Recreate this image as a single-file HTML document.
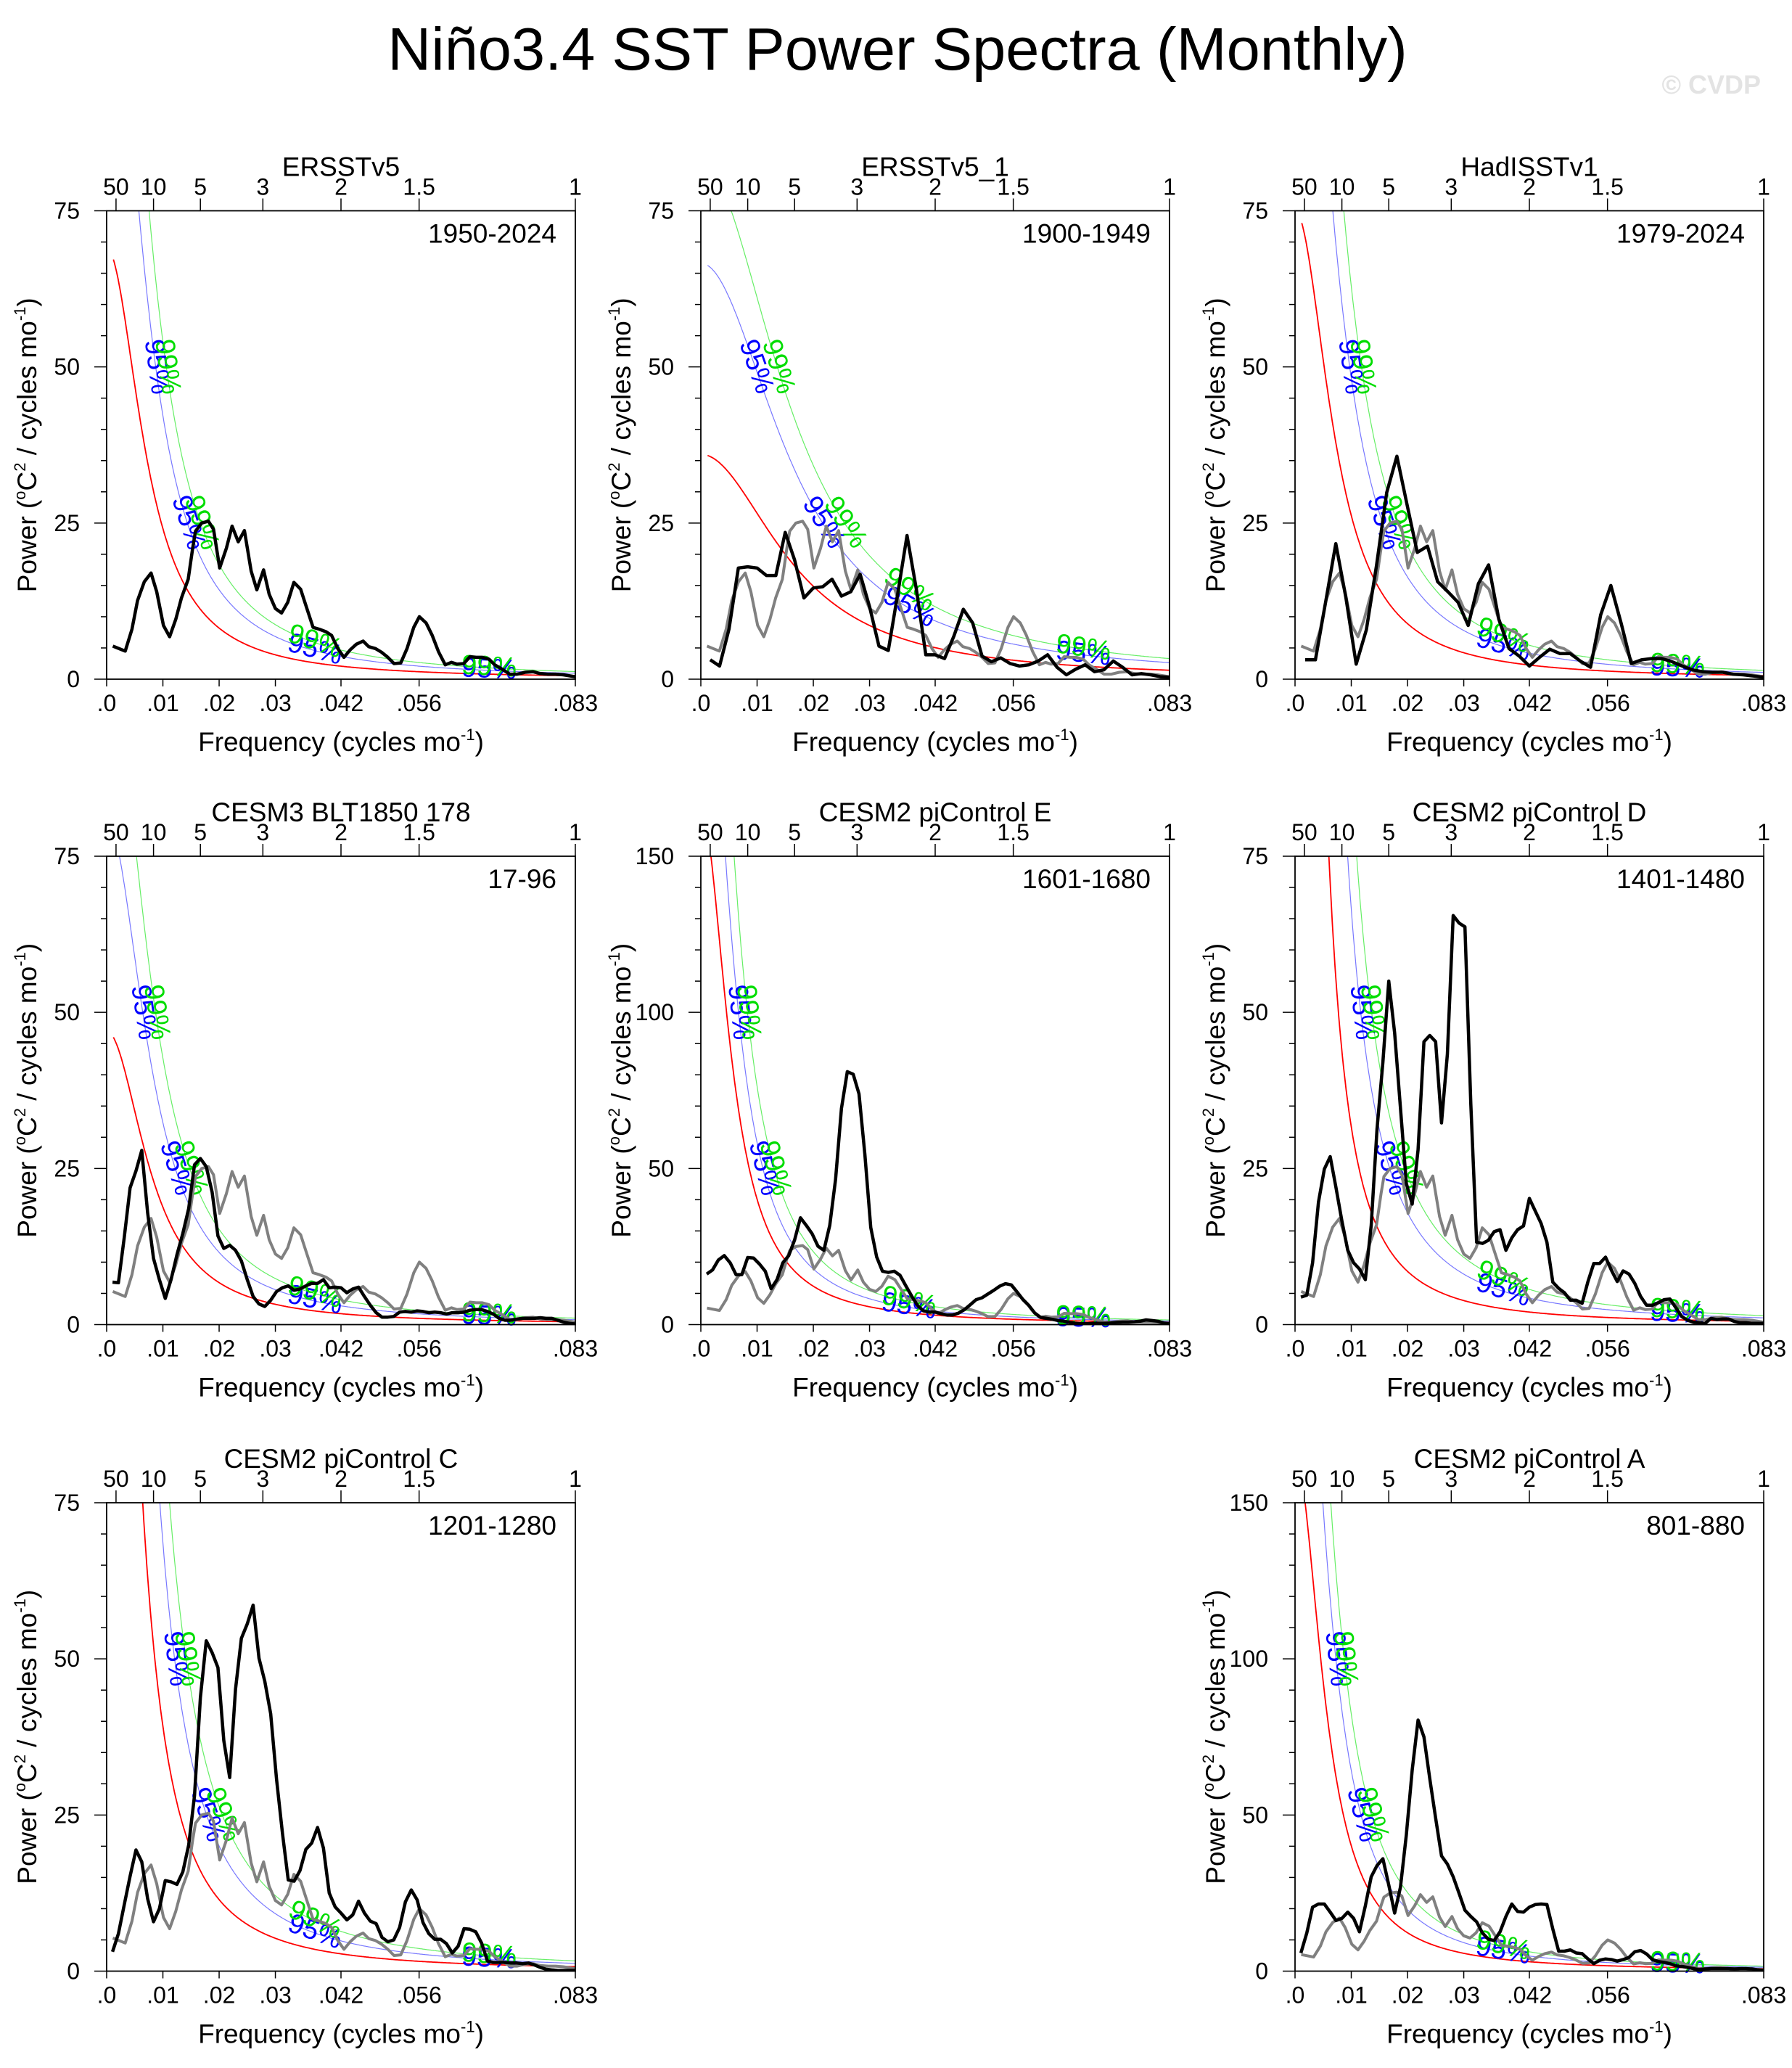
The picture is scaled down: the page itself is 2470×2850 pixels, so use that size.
<!DOCTYPE html>
<html><head><meta charset="utf-8">
<style>
html,body{margin:0;padding:0;background:#fff;}
svg{display:block;font-family:"Liberation Sans",Arial,sans-serif;}
</style></head>
<body>
<svg id="fig" width="2470" height="2850" viewBox="0 0 2470 2850" xmlns="http://www.w3.org/2000/svg">
<rect width="2470" height="2850" fill="#fff"/>
<text x="1237" y="96" font-size="83" text-anchor="middle" fill="#000">Niño3.4 SST Power Spectra (Monthly)</text>
<text x="2427" y="129" font-size="36" font-weight="bold" text-anchor="end" fill="#e3e3e3">© CVDP</text>
<g id="panels"></g>
</svg>
<script>
// ---------- data ----------
const panelTitles = ["ERSSTv5","ERSSTv5_1","HadISSTv1","CESM3 BLT1850 178","CESM2 piControl E","CESM2 piControl D","CESM2 piControl C","CESM2 piControl A"];
const panelYears = ["1950-2024","1900-1949","1979-2024","17-96","1601-1680","1401-1480","1201-1280","801-880"];
const panelYMax = [75,75,75,75,150,75,75,150];
// observed reference (grey) spectrum: ERSSTv5 1950-2024
const obsFreq = [.0011,.0033,.0045,.0055,.0067,.0079,.0089,.0101,.0112,.0123,.0133,.0145,.0153,.0158,.0169,.0181,.0190,.0201,.0213,.0223,.0234,.0245,.0257,.0267,.0279,.0289,.0300,.0311,.0322,.0333,.0345,.0355,.0367,.0378,.0390,.0400,.0411,.0422,.0433,.0444,.0456,.0466,.0478,.0489,.0500,.0511,.0523,.0534,.0546,.0556,.0568,.0579,.0590,.0602,.0613,.0623,.0635,.0646,.0657,.0668,.0680,.0690,.0703,.0717,.0730,.0744,.0758,.0771,.0785,.0798,.0812,.0833];
const obsPower = [5.3,4.5,8.0,12.6,15.6,17.0,14.0,8.6,6.8,9.6,13.0,16.0,21.0,23.7,25.0,25.3,24.0,17.8,21.0,24.5,22.0,23.8,17.3,14.3,17.5,13.6,11.3,10.6,12.3,15.5,14.4,11.6,8.3,8.0,7.6,7.0,4.9,3.5,4.7,5.6,6.1,5.2,4.9,4.3,3.5,2.5,2.6,4.9,8.3,10.0,9.0,7.0,4.4,2.3,2.7,2.4,2.5,3.6,3.5,3.5,3.2,2.3,1.6,0.8,0.8,1.1,1.2,0.9,0.8,0.8,0.7,0.4];
// per-panel black spectra (evenly spaced harmonics up to 1/12 cycles/mo)
const power2 = [3.1,2.1,8.0,17.8,18.0,17.8,16.6,16.6,23.5,19.1,13.0,14.6,14.8,16.0,13.3,14.0,16.8,11.6,5.3,4.6,13.6,23.0,14.3,3.9,3.9,3.3,6.9,11.2,9.0,3.7,2.8,3.4,2.5,2.1,2.3,2.9,3.9,1.9,0.7,1.6,2.3,1.2,1.5,2.9,1.9,0.7,0.9,0.7,0.4,0.3];
const power3 = [3.1,3.1,12.3,21.7,13.0,2.4,7.9,18.2,29.9,35.7,27.9,20.3,21.3,15.6,14.0,12.3,8.6,15.3,18.3,9.6,4.9,3.7,2.1,3.5,4.8,4.1,4.1,2.9,1.9,10.3,15.0,9.0,2.5,3.1,3.3,3.3,2.8,2.1,1.5,1.2,1.1,1.1,0.8,0.7,0.5,0.3];
const power4 = [6.8,6.7,13.9,21.9,24.6,27.9,17.9,10.6,7.2,4.2,7.2,11.2,14.6,18.6,25.6,26.6,25.3,21.2,14.2,12.2,12.7,11.9,10.2,7.2,4.5,3.3,2.9,3.9,5.3,5.9,6.2,5.5,5.7,6.2,6.6,6.6,7.2,5.9,6.0,5.9,5.1,5.7,6.0,4.5,3.1,1.9,1.2,1.2,1.3,2.0,2.1,2.0,2.2,2.1,1.9,2.0,1.9,1.7,1.9,1.9,2.0,2.3,2.4,2.4,2.1,1.7,1.0,0.7,0.7,0.9,1.0,1.0,1.0,1.1,1.0,1.0,0.7,0.4,0.2,0.1];
const power5 = [16.2,17.5,20.7,22.1,19.8,16.0,16.0,21.5,21.3,19.4,17.1,11.5,14.4,19.8,22.1,27.1,34.2,31.8,29.1,25.1,23.8,31.8,46.5,69.2,81.0,80.2,73.9,54.5,31.1,21.7,17.1,16.7,17.1,15.8,12.4,9.1,6.1,4.4,4.0,4.0,3.5,3.1,3.1,3.7,4.8,6.4,8.0,8.6,9.8,11.0,12.3,13.1,12.7,10.4,8.0,6.1,3.7,2.3,2.0,1.7,1.3,1.1,0.7,0.4,0.3,0.3,0.4,0.4,0.4,0.5,0.7,0.8,0.8,0.9,1.1,1.5,1.3,1.1,0.5,0.3];
const power6 = [4.4,4.7,9.9,19.6,24.9,26.9,21.9,16.6,11.9,9.9,8.9,7.2,15.9,31.3,42.0,55.0,46.7,34.7,22.6,19.3,28.0,45.3,46.3,45.3,32.3,43.3,65.5,64.3,63.7,35.3,13.2,13.0,13.5,14.9,15.2,11.9,13.9,15.2,15.8,20.2,18.2,16.2,13.2,6.8,5.8,5.1,3.9,3.9,3.4,6.9,9.8,9.8,10.8,8.7,6.9,8.6,8.1,6.6,4.5,3.1,3.1,3.5,4.0,4.1,2.7,1.3,0.7,0.4,0.3,0.2,1.0,0.8,0.9,0.9,0.5,0.3,0.3,0.2,0.2,0.2];
const power7 = [3.1,6.0,10.6,15.2,19.4,17.5,11.6,7.9,10.0,14.5,14.3,13.9,15.9,20.2,28.1,43.8,52.9,51.0,48.6,36.9,31.0,45.1,53.3,55.6,58.6,50.1,46.4,41.2,30.7,22.1,14.6,14.4,16.1,19.5,20.5,23.0,19.7,12.5,10.3,9.3,8.2,9.0,11.2,9.3,8.0,7.6,5.4,4.7,5.0,7.0,11.1,13.0,11.4,7.8,6.0,5.1,5.1,4.4,2.9,4.0,6.8,6.7,6.3,4.5,1.6,1.4,1.4,1.4,1.3,1.3,1.2,1.3,1.0,0.6,0.3,0.2,0.1,0.1,0.1,0.1];
const power8 = [5.8,12.2,20.5,21.5,21.5,18.9,16.2,16.9,18.9,16.9,12.6,20.9,30.2,33.8,36.0,27.6,18.6,26.9,43.6,64.4,80.4,75.0,61.7,49.0,36.9,34.3,30.2,24.9,19.5,17.5,15.8,12.2,10.2,9.8,12.6,17.5,21.5,19.1,18.9,20.5,21.3,21.5,21.3,13.5,6.4,6.4,6.8,5.8,5.6,3.9,2.4,3.5,3.9,3.7,3.2,3.7,4.4,6.2,6.6,5.5,3.7,3.1,2.8,2.4,1.7,1.5,1.2,0.8,0.5,0.7,0.8,0.8,0.8,0.8,0.7,0.8,0.8,0.7,0.4,0.3];
// red-noise (AR1) fit per panel and significance multipliers
const redR = [.955,.9,.955,.95,.965,.98,.97,.965];
const redS0 = [69,36,75,47,165,338,206,165];
const mult95 = [1.75,1.85,1.84,1.72,1.45,2.1,1.75,1.6];
const mult99 = [2.24,2.3,2.4,2.27,1.9,2.8,2.3,2.05];
const xTickVals = [0,.01,.02,.03,1/24,1/18,1/12];
const xTickLabels = [".0",".01",".02",".03",".042",".056",".083"];
const periodVals = [50,10,5,3,2,1.5,1];
const periodLabels = ["50","10","5","3","2","1.5","1"];

// ---------- layout ----------
const NS = "http://www.w3.org/2000/svg";
const colX = [147,966,1785], rowY = [290.5,1180,2071];
const PW = 646, PH = 645.5, FMAX = 1/12;
const slots = [[0,0],[1,0],[2,0],[0,1],[1,1],[2,1],[0,2],[2,2]];
const blackSeries = [null,power2,power3,power4,power5,power6,power7,power8];

function mk(tag, attrs, parent){
  const e = document.createElementNS(NS, tag);
  for (const k in attrs) e.setAttribute(k, attrs[k]);
  parent.appendChild(e);
  return e;
}
function pathFrom(pts){ return pts.map((p,i)=>(i?"L":"M")+p[0].toFixed(1)+" "+p[1].toFixed(1)).join(" "); }

const root = document.getElementById("panels");
panelTitles.forEach((title, i) => {
  const [c, r] = slots[i];
  const L = colX[c], T = rowY[r], B = T + PH, R = L + PW;
  const ymax = panelYMax[i];
  const xs = f => L + f / FMAX * PW;
  const ys = v => B - v / ymax * PH;
  const g = mk("g", {}, root);
  
  
  const cid = "clip" + i;
  const cp = mk("clipPath", {id: cid}, g);
  mk("rect", {x: L, y: T, width: PW, height: PH}, cp);

  const tt = mk("text", {x: L + PW/2, y: T - 48, "font-size": 37, "text-anchor": "middle"}, g);
  tt.textContent = title;
  
  
  const yr = mk("text", {x: R - 26, y: T + 44, "font-size": 37, "text-anchor": "end"}, g);
  yr.textContent = panelYears[i];
  
  

  const major = ymax / 3, minor = ymax / 15;
  for (let v = 0; v <= ymax + 1e-6; v += minor) {
    const isMaj = Math.abs(v / major - Math.round(v / major)) < 1e-6;
    const tk = mk("line", {x1: L - (isMaj ? 17 : 8), x2: L, y1: ys(v), y2: ys(v), stroke: "#000", "stroke-width": 1.5}, g);
    
    
    if (isMaj) {
      const lb = mk("text", {x: L - 37, y: ys(v) + 11, "font-size": 32, "text-anchor": "end"}, g);
      lb.textContent = String(Math.round(v));
      
      
    }
  }
  xTickVals.forEach((f, k) => {
    const tk = mk("line", {x1: xs(f), x2: xs(f), y1: B, y2: B + 10, stroke: "#000", "stroke-width": 1.5}, g);
    
    
    const lb = mk("text", {x: xs(f), y: B + 44, "font-size": 32, "text-anchor": "middle"}, g);
    lb.textContent = xTickLabels[k];
    
    
  });
  periodVals.forEach((p, k) => {
    const f = 1 / (12 * p);
    const tk = mk("line", {x1: xs(f), x2: xs(f), y1: T - 17, y2: T, stroke: "#000", "stroke-width": 1.5}, g);
    
    
    const lb = mk("text", {x: xs(f), y: T - 22, "font-size": 32, "text-anchor": "middle"}, g);
    lb.textContent = periodLabels[k];
    
    
  });
  const xt = mk("text", {x: L + PW/2, y: B + 99, "font-size": 37, "text-anchor": "middle"}, g);
  xt.innerHTML = 'Frequency (cycles mo<tspan font-size="22" dy="-15">-1</tspan><tspan dy="15">)</tspan>';
  
  
  const yt = mk("text", {x: 0, y: 0, "font-size": 37, "text-anchor": "middle", transform: `translate(${L-97},${T+PH/2}) rotate(-90)`}, g);
  yt.innerHTML = 'Power (<tspan font-size="22" dy="-15">o</tspan><tspan dy="15">C</tspan><tspan font-size="22" dy="-15">2</tspan><tspan dy="15"> / cycles mo</tspan><tspan font-size="22" dy="-15">-1</tspan><tspan dy="15">)</tspan>';
  
  

  const rr = redR[i], a = (1-rr)*(1-rr);
  const red = f => redS0[i] * a / (a + 2*rr*(1 - Math.cos(2*Math.PI*f)));
  const f0 = 0.0012;
  const curves = [[red, "#ff0000", 1.8, "red-noise-curve"],
                  [f => red(f)*mult95[i], "#7878ff", 1.2, "sig95-curve"],
                  [f => red(f)*mult99[i], "#66ee66", 1.2, "sig99-curve"]];
  curves.forEach(([fn, col, w, nm]) => {
    const pts = [];
    for (let k = 0; k <= 500; k++) { const f = f0 + (FMAX - f0) * k / 500; pts.push([xs(f), ys(Math.min(fn(f), ymax*3))]); }
    const pth = mk("path", {d: pathFrom(pts), fill: "none", stroke: col, "stroke-width": w, "clip-path": `url(#${cid})`}, g);
    
    
  });
  [[curves[1][0], "#0000ff", "95%"], [curves[2][0], "#00dd00", "99%"]].forEach(([fn, col, txt]) => {
    const spots = [];
    [ymax*2/3, ymax/3].forEach(level => {
      let lo = f0, hi = FMAX;
      for (let n = 0; n < 60; n++) { const m = (lo+hi)/2; if (fn(m) > level) lo = m; else hi = m; }
      spots.push(lo);
    });
    spots.push(0.037, 0.068);
    spots.forEach(f => {
      const df = 0.0004;
      const x1 = xs(f-df), y1 = ys(fn(f-df)), x2 = xs(f+df), y2 = ys(fn(f+df));
      const ang = Math.atan2(y2-y1, x2-x1) * 180 / Math.PI;
      const lb = mk("text", {x: 0, y: 0, "font-size": 38, fill: col, "text-anchor": "middle", "dominant-baseline": "middle",
        transform: `translate(${xs(f).toFixed(1)},${ys(fn(f)).toFixed(1)}) rotate(${ang.toFixed(1)})`}, g);
      lb.textContent = txt;
      
      
    });
  });

  const obsPts = obsFreq.map((f, k) => [xs(f), ys(obsPower[k])]);
  if (i > 0) {
    const gp = mk("path", {d: pathFrom(obsPts), fill: "none", stroke: "#808080", "stroke-width": 4, "stroke-linejoin": "round", "clip-path": `url(#${cid})`}, g);
    
    
  }
  let bPts;
  const ser = blackSeries[i];
  if (ser) bPts = ser.map((v, k) => [xs((k+1) / ser.length * FMAX), ys(v)]);
  else bPts = obsPts;
  const bp = mk("path", {d: pathFrom(bPts), fill: "none", stroke: "#000", "stroke-width": 4.5, "stroke-linejoin": "round", "clip-path": `url(#${cid})`}, g);
  
  

  const fr = mk("rect", {x: L, y: T, width: PW, height: PH, fill: "none", stroke: "#000", "stroke-width": 1.8}, g);
  
  
});
</script>
</body></html>
